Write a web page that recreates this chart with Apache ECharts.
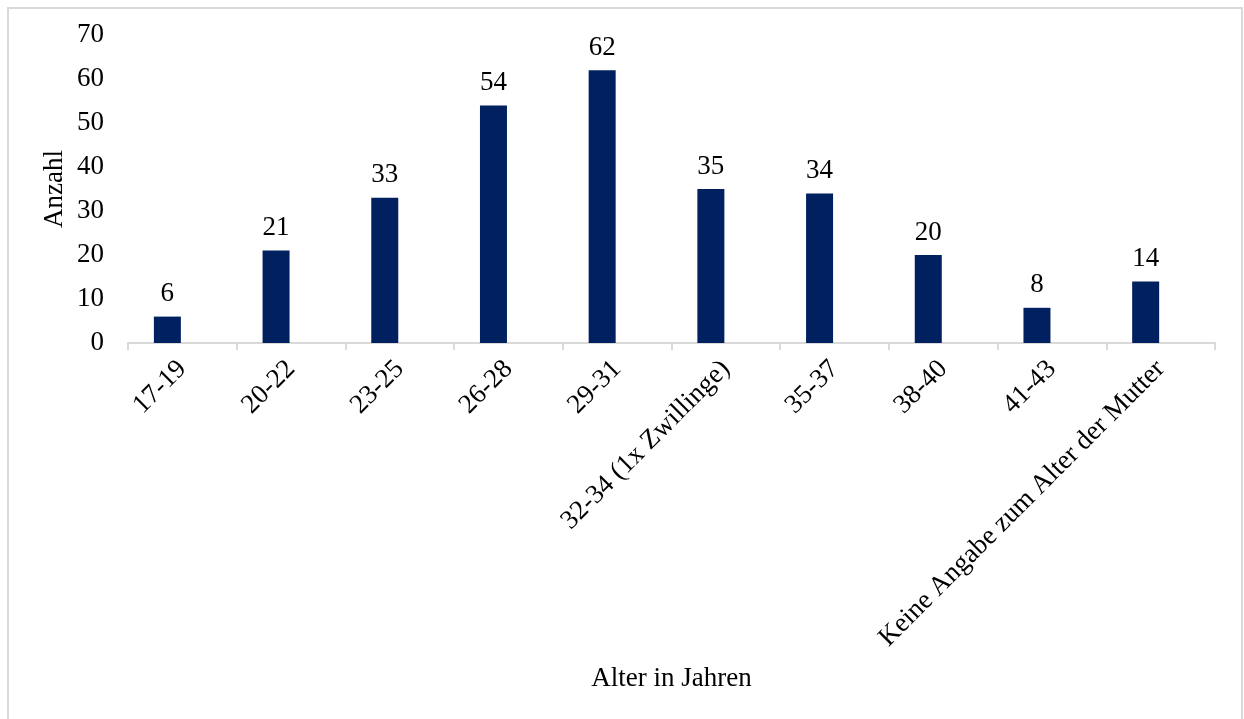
<!DOCTYPE html>
<html>
<head>
<meta charset="utf-8">
<title>Alter der Mutter</title>
<script src="https://cdn.jsdelivr.net/npm/echarts@6/dist/echarts.min.js"></script>
<style>
  html, body { margin: 0; padding: 0; background: #ffffff; overflow: hidden; }
  #frame {
    position: absolute; left: 7px; top: 7px; width: 1232px; height: 730px;
    border: 2px solid #d9d9d9; box-sizing: content-box;
  }
  #chart { position: absolute; left: 0; top: 0; width: 1244px; height: 719px; }
</style>
</head>
<body>
<div id="frame"></div>
<div id="chart"></div>
<script>
// Altersgruppen der Mütter und Anzahl der Geburten
const categories = [
  '17-19', '20-22', '23-25', '26-28', '29-31',
  '32-34 (1x Zwillinge)', '35-37', '38-40', '41-43',
  'Keine Angabe zum Alter der Mutter'
];
const counts = [6, 21, 33, 54, 62, 35, 34, 20, 8, 14];
// zweite Reihe ohne Werte (leerer Platz neben jedem Balken)
const emptySeries = [null, null, null, null, null, null, null, null, null, null];
const yTicks = { min: 0, max: 70, interval: 10 };

const FONT = "'Liberation Serif', 'Times New Roman', serif";
const FS = 27;
const chart = echarts.init(document.getElementById('chart'), null, { renderer: 'canvas' });

chart.setOption({
  animation: false,
  textStyle: { fontFamily: FONT, color: '#000' },
  grid: { left: 128, right: 29, top: 35, bottom: 376, containLabel: false },
  xAxis: {
    type: 'category',
    data: categories,
    name: 'Alter in Jahren',
    nameLocation: 'middle',
    nameGap: 322,
    nameTextStyle: { fontFamily: FONT, fontSize: FS, color: '#000' },
    axisLine: { lineStyle: { color: '#d9d9d9', width: 2 } },
    axisTick: { show: true, length: 7, lineStyle: { color: '#d9d9d9', width: 2 } },
    axisLabel: {
      interval: 0, rotate: 45, margin: 22,
      fontFamily: FONT, fontSize: FS, color: '#000'
    },
    splitLine: { show: false }
  },
  yAxis: {
    type: 'value',
    min: yTicks.min, max: yTicks.max, interval: yTicks.interval,
    name: 'Anzahl',
    nameLocation: 'middle',
    nameGap: 60,
    nameMoveOverlap: false,
    nameRotate: 90,
    nameTextStyle: { fontFamily: FONT, fontSize: FS, color: '#000' },
    axisLine: { show: false },
    axisTick: { show: false },
    splitLine: { show: false },
    axisLabel: { margin: 24, fontFamily: FONT, fontSize: FS, color: '#000' }
  },
  series: [
    {
      name: 'Anzahl',
      type: 'bar',
      data: counts,
      barWidth: 27,
      barGap: '11%',
      itemStyle: { color: '#002060' },
      label: {
        show: true, position: 'top', distance: 9,
        fontFamily: FONT, fontSize: FS, color: '#000'
      }
    },
    {
      name: 'Leer',
      type: 'bar',
      data: emptySeries,
      barWidth: 27,
      itemStyle: { color: '#002060' }
    }
  ]
});
</script>
</body>
</html>
